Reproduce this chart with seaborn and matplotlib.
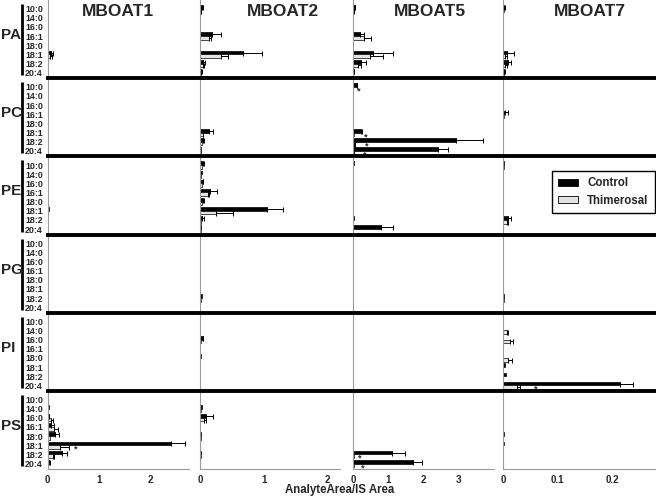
import numpy as np
import pandas as pd
import matplotlib
matplotlib.use("Agg")
import matplotlib.pyplot as plt
from matplotlib.lines import Line2D
from matplotlib.patches import Patch
import seaborn as sns

sns.set_style("white")
plt.rcParams['font.family'] = ['Liberation Sans', 'DejaVu Sans']
plt.rcParams['font.weight'] = 'bold'

# ---------------- data ----------------
cats = ["10:0", "14:0", "16:0", "16:1", "18:0", "18:1", "18:2", "20:4"]
enzymes = ["MBOAT1", "MBOAT2", "MBOAT5", "MBOAT7"]
lipids = ["PA", "PC", "PE", "PG", "PI", "PS"]
groups = ["Control", "Thimerosal"]

# each list: one row of 8 values per enzyme (MBOAT1, MBOAT2, MBOAT5, MBOAT7)
PA_ctrl = [[0.01, 0, 0, 0.01, 0, 0.07, 0.01, 0],
           [0.03, 0, 0, 0.19, 0, 0.67, 0.05, 0.02],
           [0.05, 0, 0, 0.20, 0, 0.57, 0.23, 0.02],
           [0.002, 0, 0, 0, 0, 0.0074, 0.009, 0.002]]
PA_ctrl_err = [[0, 0, 0, 0, 0, 0.03, 0, 0],
               [0.01, 0, 0, 0.14, 0, 0.31, 0.03, 0.01],
               [0.01, 0, 0, 0.10, 0, 0.57, 0.15, 0.01],
               [0.001, 0, 0, 0, 0, 0.012, 0.0056, 0.001]]
PA_thim = [[0, 0, 0, 0.005, 0, 0.05, 0.01, 0],
           [0.01, 0, 0, 0.14, 0, 0.33, 0.04, 0.01],
           [0.01, 0, 0, 0.31, 0, 0.49, 0.13, 0.01],
           [0.001, 0, 0, 0, 0, 0.003, 0.003, 0.001]]
PA_thim_err = [[0, 0, 0, 0, 0, 0.03, 0, 0],
               [0.01, 0, 0, 0.03, 0, 0.11, 0.02, 0],
               [0.01, 0, 0, 0.19, 0, 0.37, 0.11, 0],
               [0, 0, 0, 0, 0, 0.003, 0.003, 0]]

PC_ctrl = [[0, 0, 0, 0, 0, 0.01, 0, 0],
           [0, 0, 0, 0, 0, 0.14, 0.04, 0.02],
           [0.10, 0, 0, 0, 0, 0.23, 2.94, 2.41],
           [0, 0, 0, 0.003, 0, 0, 0, 0]]
PC_ctrl_err = [[0, 0, 0, 0, 0, 0, 0, 0],
               [0, 0, 0, 0, 0, 0.06, 0.02, 0],
               [0.02, 0, 0, 0, 0, 0.03, 0.76, 0.30],
               [0, 0, 0, 0.006, 0, 0, 0, 0]]
PC_thim = [[0, 0, 0, 0, 0, 0, 0, 0],
           [0, 0, 0, 0, 0, 0.04, 0.03, 0.01],
           [0.01, 0, 0, 0, 0, 0.02, 0.04, 0.03],
           [0, 0, 0, 0.001, 0, 0, 0, 0]]
PC_thim_err = [[0, 0, 0, 0, 0, 0, 0, 0],
               [0, 0, 0, 0, 0, 0.01, 0, 0],
               [0, 0, 0, 0, 0, 0, 0.01, 0.01],
               [0, 0, 0, 0, 0, 0, 0, 0]]

PE_ctrl = [[0, 0, 0, 0, 0, 0.02, 0, 0],
           [0.05, 0.03, 0.04, 0.16, 0.05, 1.06, 0.03, 0.01],
           [0.03, 0, 0, 0, 0, 0, 0.03, 0.79],
           [0.002, 0, 0, 0, 0, 0, 0.0092, 0]]
PE_ctrl_err = [[0, 0, 0, 0, 0, 0, 0, 0],
               [0.01, 0, 0.01, 0.11, 0.01, 0.24, 0.03, 0],
               [0, 0, 0, 0, 0, 0, 0, 0.36],
               [0, 0, 0, 0, 0, 0, 0.0044, 0]]
PE_thim = [[0, 0, 0, 0, 0, 0.01, 0, 0],
           [0.03, 0.02, 0.03, 0.12, 0.03, 0.25, 0.02, 0.01],
           [0.01, 0, 0, 0, 0, 0, 0.01, 0.01],
           [0.001, 0, 0, 0, 0, 0, 0.007, 0]]
PE_thim_err = [[0, 0, 0, 0, 0, 0, 0, 0],
               [0, 0, 0, 0.02, 0, 0.27, 0, 0],
               [0, 0, 0, 0, 0, 0, 0, 0],
               [0, 0, 0, 0, 0, 0, 0.002, 0]]

PG_ctrl = [[0, 0, 0, 0, 0, 0.01, 0, 0],
           [0, 0, 0, 0, 0, 0, 0.03, 0],
           [0, 0, 0, 0, 0, 0, 0.01, 0.01],
           [0, 0, 0, 0, 0, 0, 0.002, 0]]
PG_ctrl_err = [[0, 0, 0, 0, 0, 0, 0, 0],
               [0, 0, 0, 0, 0, 0, 0, 0],
               [0, 0, 0, 0, 0, 0, 0, 0],
               [0, 0, 0, 0, 0, 0, 0, 0]]
PG_thim = [[0, 0, 0, 0, 0, 0, 0, 0],
           [0, 0, 0, 0, 0, 0, 0.01, 0],
           [0, 0, 0, 0, 0, 0, 0, 0],
           [0, 0, 0, 0, 0, 0, 0.001, 0]]
PG_thim_err = [[0, 0, 0, 0, 0, 0, 0, 0],
               [0, 0, 0, 0, 0, 0, 0, 0],
               [0, 0, 0, 0, 0, 0, 0, 0],
               [0, 0, 0, 0, 0, 0, 0, 0]]

PI_ctrl = [[0, 0, 0.005, 0, 0, 0, 0, 0],
           [0, 0, 0.04, 0, 0.01, 0, 0, 0],
           [0, 0, 0, 0, 0, 0, 0, 0],
           [0, 0, 0, 0, 0, 0.003, 0.005, 0.215]]
PI_ctrl_err = [[0, 0, 0, 0, 0, 0, 0, 0],
               [0, 0, 0.01, 0, 0, 0, 0, 0],
               [0, 0, 0, 0, 0, 0, 0, 0],
               [0, 0, 0, 0, 0, 0, 0, 0.023]]
PI_thim = [[0, 0, 0, 0, 0, 0, 0, 0],
           [0, 0, 0.01, 0, 0, 0, 0, 0],
           [0, 0, 0, 0, 0, 0, 0, 0],
           [0, 0.006, 0.012, 0, 0.009, 0, 0, 0.025]]
PI_thim_err = [[0, 0, 0, 0, 0, 0, 0, 0],
               [0, 0, 0, 0, 0, 0, 0, 0],
               [0, 0, 0, 0, 0, 0, 0, 0],
               [0, 0.003, 0.006, 0, 0.0074, 0, 0, 0.006]]

PS_ctrl = [[0, 0.02, 0.02, 0.07, 0.15, 2.40, 0.28, 0.03],
           [0, 0.03, 0.10, 0, 0.01, 0, 0.01, 0],
           [0, 0, 0, 0, 0, 0, 1.10, 1.70],
           [0, 0, 0, 0, 0.001, 0.001, 0, 0]]
PS_ctrl_err = [[0, 0, 0.01, 0.06, 0.07, 0.28, 0.11, 0.01],
               [0, 0, 0.11, 0, 0, 0, 0, 0],
               [0, 0, 0, 0, 0, 0, 0.37, 0.27],
               [0, 0, 0, 0, 0, 0, 0, 0]]
PS_thim = [[0, 0.01, 0.06, 0.13, 0.05, 0.25, 0.10, 0.01],
           [0, 0.01, 0.07, 0, 0.01, 0, 0.01, 0],
           [0, 0, 0, 0, 0, 0, 0.02, 0.02],
           [0, 0, 0, 0, 0, 0, 0, 0]]
PS_thim_err = [[0, 0, 0.04, 0.07, 0, 0.17, 0.03, 0],
               [0, 0, 0.03, 0, 0, 0, 0, 0],
               [0, 0, 0, 0, 0, 0, 0, 0],
               [0, 0, 0, 0, 0, 0, 0, 0]]

# significance stars: (lipid, enzyme, fatty acid, x position)
star_lipid = ["PC", "PC", "PC", "PC", "PI", "PS", "PS", "PS"]
star_enzyme = ["MBOAT5", "MBOAT5", "MBOAT5", "MBOAT5", "MBOAT7", "MBOAT1", "MBOAT5", "MBOAT5"]
star_cat = ["10:0", "18:1", "18:2", "20:4", "20:4", "18:1", "18:2", "20:4"]
star_x = [0.15, 0.37, 0.40, 0.34, 0.059, 0.55, 0.20, 0.29]

x_ticks = [[0, 1, 2], [0, 1, 2], [0, 1, 2, 3], [0, 0.1, 0.2]]
x_ticklabels = [["0", "1", "2"], ["0", "1", "2"], ["0", "1", "2", "3"], ["0", "0.1", "0.2"]]

table = {
    "PA": (PA_ctrl, PA_ctrl_err, PA_thim, PA_thim_err),
    "PC": (PC_ctrl, PC_ctrl_err, PC_thim, PC_thim_err),
    "PE": (PE_ctrl, PE_ctrl_err, PE_thim, PE_thim_err),
    "PG": (PG_ctrl, PG_ctrl_err, PG_thim, PG_thim_err),
    "PI": (PI_ctrl, PI_ctrl_err, PI_thim, PI_thim_err),
    "PS": (PS_ctrl, PS_ctrl_err, PS_thim, PS_thim_err),
}

# ---------------- layout ----------------
W, H = 656, 497
fig = plt.figure(figsize=(W / 100, H / 100), dpi=100)


def fx(px):
    return px / W


def fy(py):
    return 1 - py / H


col_left = [47.5, 200.0, 353.0, 503.3]
col_w = [141.0, 140.0, 141.0, 152.7]
x_max = [2.75, 2.2, 4.02, 0.281]
top, bottom = 0.0, 469.0
row_h = (bottom - top) / len(lipids)

pal = {"Control": "black", "Thimerosal": "#e4e4e4"}
axes = {}

for i, lip in enumerate(lipids):
    ctrl, ctrl_err, thim, thim_err = table[lip]
    for j, enz in enumerate(enzymes):
        y0 = top + (i + 1) * row_h
        ax = fig.add_axes([fx(col_left[j]), fy(y0), col_w[j] / W, row_h / H])
        axes[(lip, enz)] = ax
        df = pd.DataFrame({
            "cat": cats * 2,
            "grp": ["Control"] * len(cats) + ["Thimerosal"] * len(cats),
            "val": list(ctrl[j]) + list(thim[j]),
        })
        sns.barplot(data=df, y="cat", x="val", hue="grp", order=cats,
                    hue_order=groups, palette=pal, orient="h", errorbar=None,
                    width=0.8, edgecolor="black", linewidth=0.5, legend=False,
                    ax=ax)
        errs = [ctrl_err[j], thim_err[j]]
        for p in list(ax.patches):
            w = p.get_width()
            yc = p.get_y() + p.get_height() / 2
            k = int(round(yc))
            g = 0 if yc < k else 1
            if w <= 0:
                p.set_visible(False)
                continue
            e = errs[g][k]
            if e > 0:
                ax.errorbar(w, yc, xerr=[[0], [e]], fmt="none", ecolor="black",
                            elinewidth=0.7, capsize=1.8, capthick=0.7, zorder=1)
        ax.set_xlim(0, x_max[j])
        ax.set_ylim(7.6, -0.95)
        ax.set_xlabel("")
        ax.set_ylabel("")
        ax.set_facecolor("none")
        for s in ["top", "right"]:
            ax.spines[s].set_visible(False)
        ax.spines["left"].set_color("#9a9a9a")
        ax.spines["left"].set_linewidth(0.8)
        ax.set_yticks(range(len(cats)))
        ax.tick_params(axis="y", length=1.8, width=0.6, color="#9a9a9a", pad=1.5)
        if j == 0:
            ax.set_yticklabels(cats, fontsize=6.4, fontweight="bold")
        else:
            ax.set_yticklabels([])
        if i == len(lipids) - 1:
            ax.spines["bottom"].set_color("#9a9a9a")
            ax.spines["bottom"].set_linewidth(0.8)
            ax.set_xticks(x_ticks[j])
            ax.set_xticklabels(x_ticklabels[j], fontsize=7, fontweight="bold")
            ax.tick_params(axis="x", length=2, width=0.6, color="#9a9a9a", pad=2)
        else:
            ax.spines["bottom"].set_visible(False)
            ax.set_xticks([])

# stars
for lip, enz, c, xv in zip(star_lipid, star_enzyme, star_cat, star_x):
    ax = axes[(lip, enz)]
    ax.text(xv, cats.index(c) + 0.45, "*", ha="center", va="center",
            fontsize=6.5, fontweight="bold")

# separators, brackets, row labels
for i, lip in enumerate(lipids):
    yt = top + i * row_h
    yb = yt + row_h
    if i > 0:
        fig.add_artist(Line2D([fx(46), fx(656)], [fy(yt), fy(yt)],
                              color="black", lw=2.8, solid_capstyle="butt"))
    fig.add_artist(Line2D([fx(22), fx(22)], [fy(yt + 4), fy(yb - 3)],
                          color="black", lw=2.0, solid_capstyle="butt"))
    fig.text(fx(0.5), fy((yt + yb) / 2 - 4), lip, ha="left", va="center",
             fontsize=11, fontweight="bold")

# column titles
for cx, enz in zip([118, 283, 430, 590], enzymes):
    fig.text(fx(cx), fy(12), enz, ha="center", va="center",
             fontsize=12.5, fontweight="bold")

fig.text(fx(340), fy(490), "AnalyteArea/IS Area", ha="center", va="center",
         fontsize=8.3, fontweight="bold")

handles = [Patch(facecolor="black", edgecolor="black", linewidth=0.6),
           Patch(facecolor=pal["Thimerosal"], edgecolor="black", linewidth=0.6)]
leg = fig.legend(handles, groups, loc="upper right",
                 bbox_to_anchor=(fx(655), fy(171)), frameon=True,
                 fancybox=False, edgecolor="black", framealpha=1,
                 prop={"weight": "bold", "size": 8.3}, handlelength=1.7,
                 handleheight=0.55, borderpad=0.55, labelspacing=0.45,
                 handletextpad=0.8, borderaxespad=0)
leg.get_frame().set_linewidth(1.0)

fig.savefig("out.png", dpi=100)
